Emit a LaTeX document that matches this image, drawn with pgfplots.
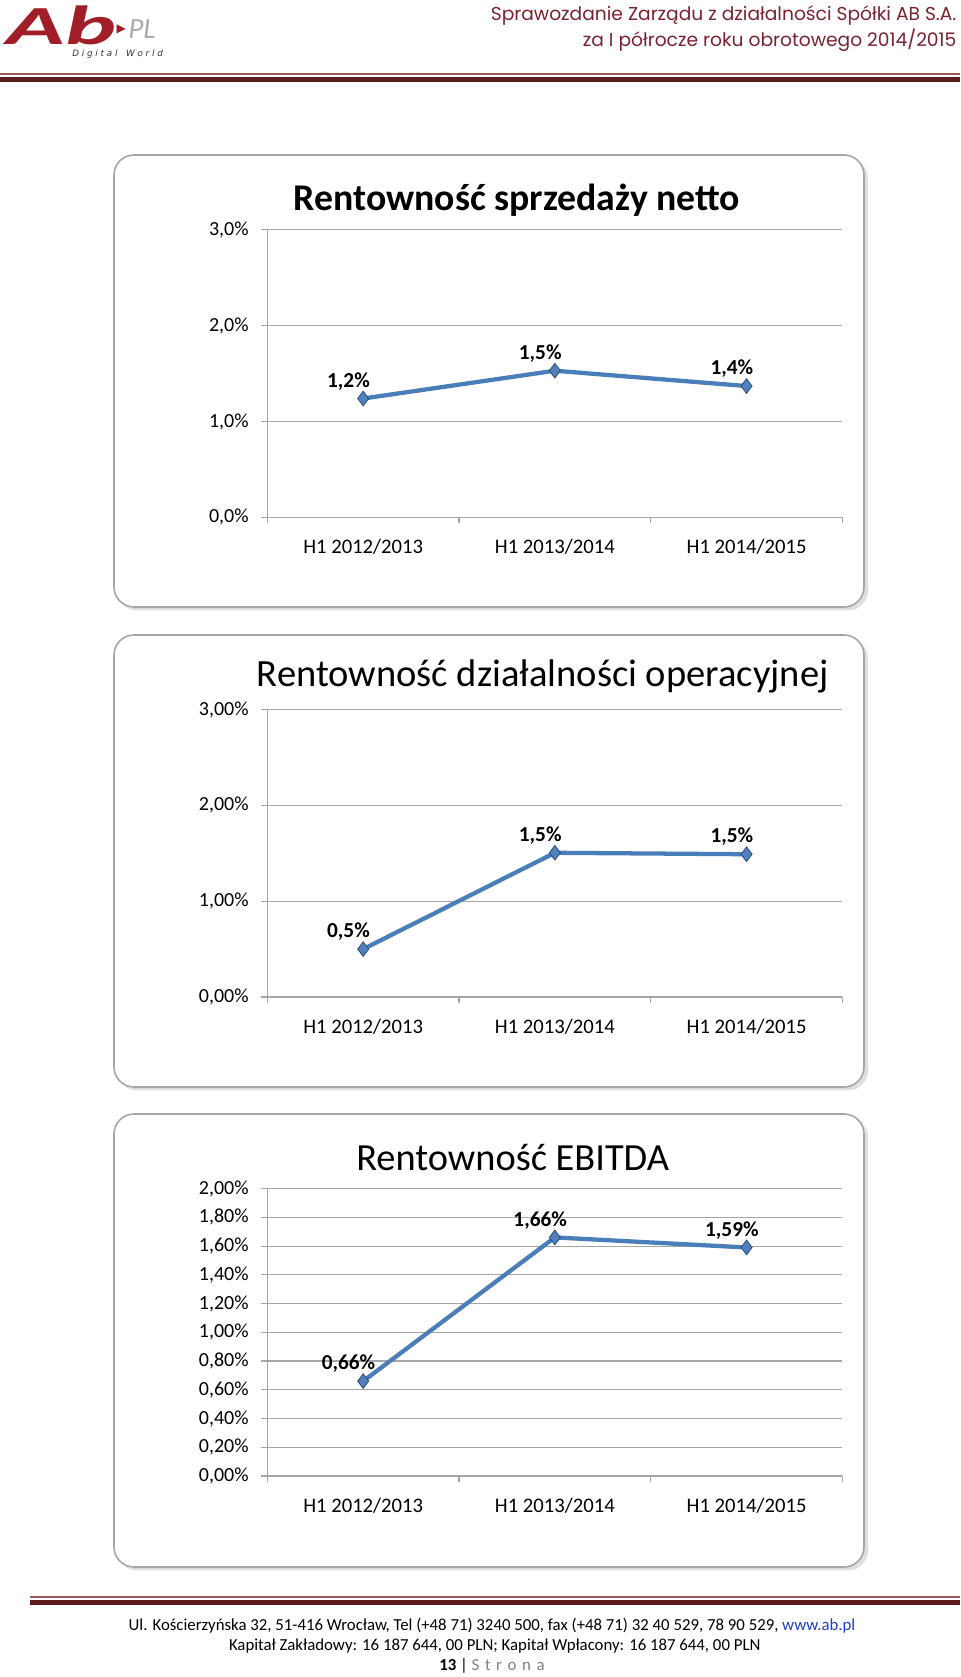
\documentclass[border=0pt]{standalone}
\usepackage{fontspec}
\setmainfont{Carlito}
\newfontfamily\headfont{Poppins}
\newfontfamily\logofont{DejaVu Sans}
\usepackage{pgfplots}
\pgfplotsset{compat=1.18}
\definecolor{lineblue}{HTML}{4A7EBB}
\definecolor{markblue}{HTML}{4F81BD}
\definecolor{markedge}{HTML}{2C4D75}
\definecolor{headmaroon}{HTML}{7B2230}
\definecolor{darkmaroon}{HTML}{5E1B1E}
\definecolor{thinmaroon}{HTML}{9A5A5A}
\definecolor{gridgray}{HTML}{A6A6A6}
\definecolor{logored}{HTML}{A01E28}
\definecolor{linkblue}{HTML}{1F3FBF}
\pgfplotsset{
  rchart/.style={
    scale only axis, width=431.3pt, height=215.6pt,
    anchor=south west,
    xmin=0.5, xmax=3.5,
    axis lines*=left,
    axis line style={draw=gridgray, line width=0.8pt, -},
    ymajorgrids, grid style={draw=gridgray, line width=0.8pt},
    xtick={0.5,1.5,2.5,3.5}, xticklabels={},
    extra x ticks={1,2,3},
    extra x tick labels={H1 2012/2013,H1 2013/2014,H1 2014/2015},
    extra x tick style={major tick length=0pt, grid=none,
      xticklabel style={yshift=-12.8pt, font=\fontsize{15.5}{18}\selectfont}},
    tick align=outside, major tick length=4.5pt,
    tick style={draw=gridgray, line width=0.8pt},
    tick label style={font=\fontsize{15}{18}\selectfont, text=black},
    yticklabel style={xshift=-6pt},
    clip=false,
  },
  rline/.style={color=lineblue, line width=3.2pt, mark=diamond*, mark size=5.5pt,
    mark options={fill=markblue, draw=markedge, line width=0.6pt},
    nodes near coords, point meta=explicit symbolic,
    nodes near coords style={font=\fontsize{16}{18}\selectfont\bfseries, text=black,
      anchor=center, xshift=-11pt, yshift=13pt}},
}
\begin{document}
\begin{tikzpicture}
\path[use as bounding box] (0pt,0pt) rectangle (720pt,-1257.75pt);
% ---------- header ----------
\node[anchor=north west, inner sep=0pt, text=logored] at (5pt,-4pt)
  {\resizebox{82pt}{29pt}{\bfseries\itshape Ab}};
\node[anchor=center, inner sep=0pt, text=logored] at (91pt,-22pt)
  {\logofont\fontsize{9}{9}\selectfont ▶};
\node[anchor=west, inner sep=0pt, text=gray!65] at (96pt,-22pt)
  {\fontsize{22}{22}\selectfont\itshape PL};
\node[anchor=north west, inner sep=0pt, text=black!80] at (54pt,-37.5pt)
  {\resizebox{68pt}{!}{\logofont\itshape D i g i t a l\ \ \ W o r l d}};
\node[anchor=east, inner sep=0pt, text=headmaroon] at (717.5pt,-12pt)
  {\headfont\fontsize{14}{16}\selectfont Sprawozdanie Zarządu z działalności Spółki AB S.A.};
\node[anchor=east, inner sep=0pt, text=headmaroon] at (717.5pt,-30.5pt)
  {\headfont\fontsize{14}{16}\selectfont za I półrocze roku obrotowego 2014/2015};
\draw[thinmaroon, line width=0.9pt] (0pt,-55.5pt) -- (720pt,-55.5pt);
\draw[darkmaroon, line width=3.8pt] (0pt,-59.6pt) -- (720pt,-59.6pt);
% ---------- boxes ----------
\foreach \yt/\yb in {-116.25/-455.25, -476.25/-815.25, -835.5/-1175.25}{
  \fill[gray!25, rounded corners=15pt] (88pt,\yt pt-2.5pt) rectangle (651pt,\yb pt-2.5pt);
  \draw[rounded corners=15pt, draw=gridgray, line width=1.2pt, fill=white]
    (85.5pt,\yt pt) rectangle (648pt,\yb pt);
}
% ---------- chart 1 ----------
\begin{axis}[rchart, at={(200.5pt,-388pt)},
  ymin=0, ymax=3, ytick={0,1,2,3},
  yticklabels={{0,0\%},{1,0\%},{2,0\%},{3,0\%}}]
\addplot[rline] coordinates {(1,1.24) [{1,2\%}] (2,1.53) [{1,5\%}] (3,1.37) [{1,4\%}]};
\end{axis}
\node[font=\fontsize{28.3}{32}\selectfont\bfseries] at (387.75pt,-150pt) {Rentowność sprzedaży netto};
% ---------- chart 2 ----------
\begin{axis}[rchart, at={(200.5pt,-747.75pt)},
  ymin=0, ymax=3, ytick={0,1,2,3},
  yticklabels={{0,00\%},{1,00\%},{2,00\%},{3,00\%}}]
\addplot[rline] coordinates {(1,0.50) [{0,5\%}] (2,1.505) [{1,5\%}] (3,1.49) [{1,5\%}]};
\end{axis}
\node[font=\fontsize{28.9}{32}\selectfont] at (407pt,-507.6pt) {Rentowność działalności operacyjnej};
% ---------- chart 3 ----------
\begin{axis}[rchart, at={(200.5pt,-1107pt)},
  ymin=0, ymax=2, ytick={0,0.2,0.4,0.6,0.8,1.0,1.2,1.4,1.6,1.8,2.0},
  yticklabels={{0,00\%},{0,20\%},{0,40\%},{0,60\%},{0,80\%},{1,00\%},{1,20\%},{1,40\%},{1,60\%},{1,80\%},{2,00\%}}]
\addplot[rline] coordinates {(1,0.66) [{0,66\%}] (2,1.66) [{1,66\%}] (3,1.59) [{1,59\%}]};
\end{axis}
\node[font=\fontsize{28.8}{32}\selectfont] at (384.5pt,-868.3pt) {Rentowność EBITDA};
% ---------- footer ----------
\draw[thinmaroon, line width=0.9pt] (22.5pt,-1197.75pt) -- (720pt,-1197.75pt);
\draw[darkmaroon, line width=3.8pt] (22.5pt,-1201.9pt) -- (720pt,-1201.9pt);
\node[font=\fontsize{12.6}{14}\selectfont, inner sep=0pt] at (369pt,-1219.5pt)
  {Ul. Kościerzyńska 32, 51-416 Wrocław, Tel (+48 71) 3240 500, fax (+48 71) 32 40 529, 78 90 529, \textcolor{linkblue}{www.ab.pl}};
\node[font=\fontsize{12.6}{14}\selectfont, inner sep=0pt] at (371pt,-1234.5pt)
  {Kapitał Zakładowy: 16 187 644, 00 PLN; Kapitał Wpłacony: 16 187 644, 00 PLN};
\node[font=\fontsize{12.6}{14}\selectfont, inner sep=0pt] at (369pt,-1249.5pt)
  {\textbf{13} | \textcolor{gray}{S\,\,t\,\,r\,\,o\,\,n\,\,a}};
\end{tikzpicture}
\end{document}
